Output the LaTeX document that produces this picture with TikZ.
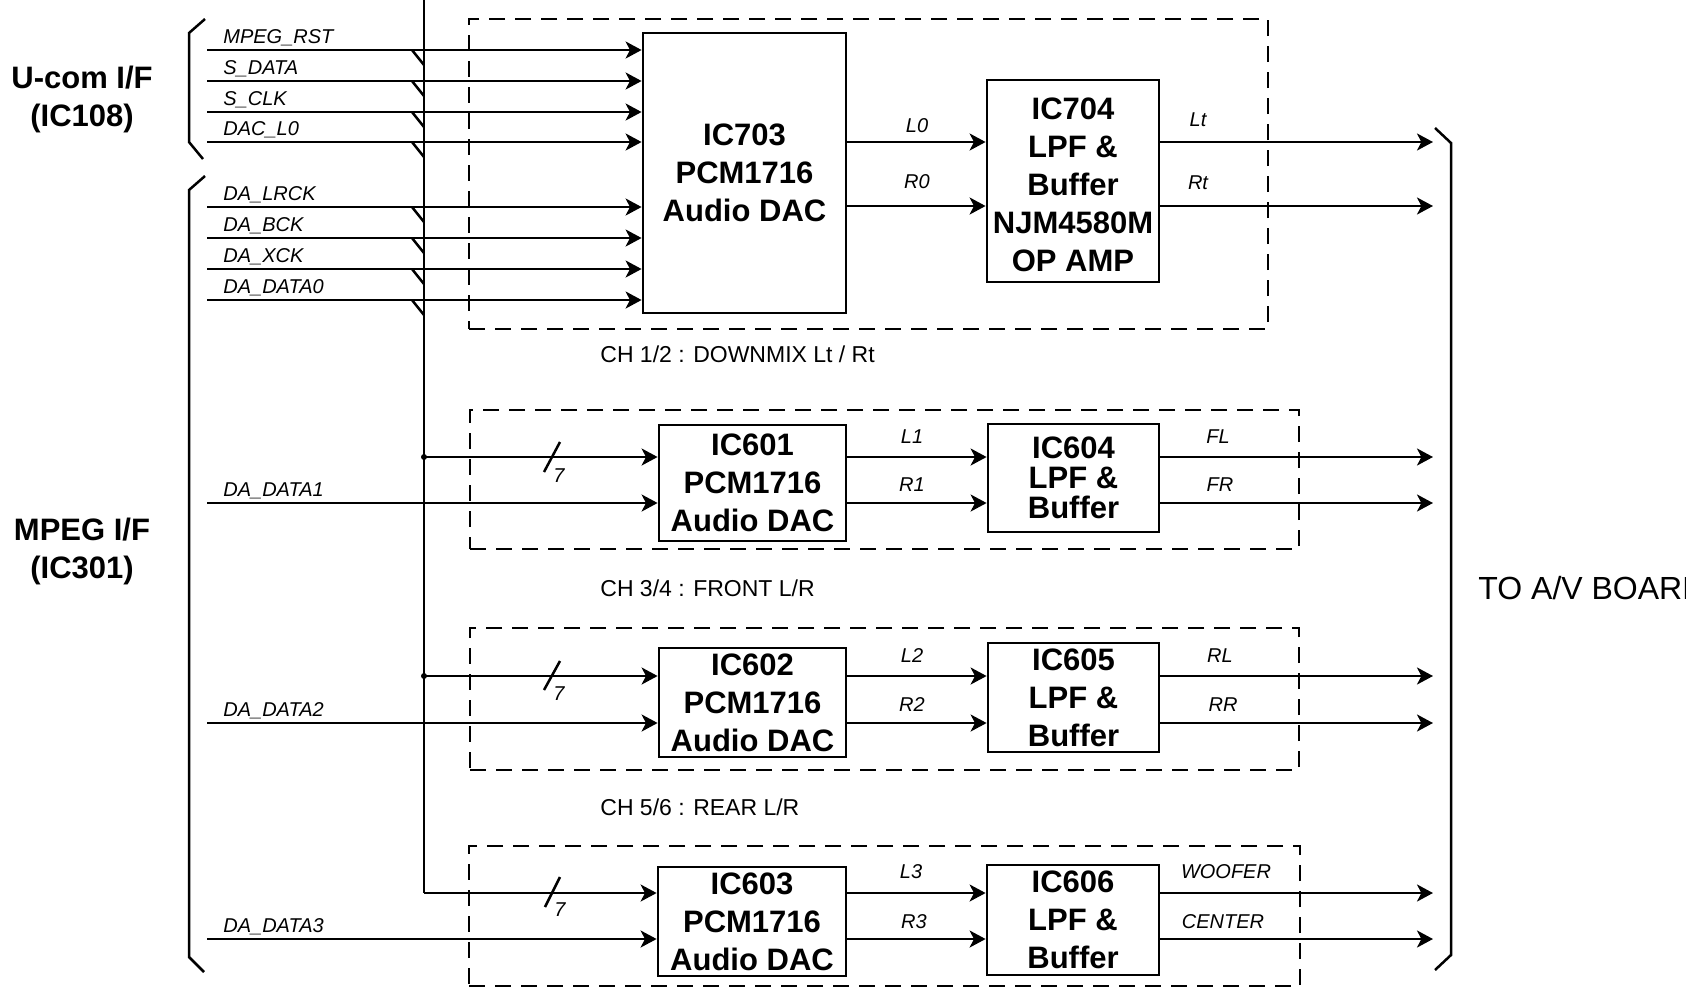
\documentclass[tikz,border=0pt]{standalone}
\usepackage{fontspec}
\setmainfont{Liberation Sans}
\usetikzlibrary{arrows.meta,fit}
\begin{document}
\begin{tikzpicture}[x=0.5pt,y=-0.5pt,
  icbox/.style={draw, line width=1.4pt, inner sep=0pt, align=center,
    font=\bfseries\fontsize{15.5}{19}\selectfont},
  sig/.style={font=\itshape\fontsize{10}{12}\selectfont, anchor=base west, inner sep=0pt},
  lab/.style={font=\itshape\fontsize{10}{12}\selectfont, anchor=base, inner sep=0pt},
  chlab/.style={font=\fontsize{11.5}{14}\selectfont, anchor=base west, inner sep=0pt},
  side/.style={font=\bfseries\fontsize{15.5}{19}\selectfont, anchor=base, inner sep=0pt},
  arr/.style={-{Stealth[length=8pt,width=8.5pt,inset=2.2pt]}, line width=1.25pt},
  wire/.style={line width=1.25pt},
  grp/.style={draw, dash pattern=on 8pt off 5pt, line width=1.25pt, inner sep=0pt}
]
\useasboundingbox (0,0) rectangle (1686,992);

% group frames
\node[grp, fit={(469,19) (1268,329)}] (g1) {};
\node[grp, fit={(470,410) (1299,549)}] (g2) {};
\node[grp, fit={(470,628) (1299,770)}] (g3) {};
\node[grp, fit={(469,846) (1300,986)}] (g4) {};

% IC boxes
\node[icbox, minimum width=101.5pt, minimum height=140pt] (ic703) at (744.5,173) {IC703\\PCM1716\\Audio DAC};
\node[icbox, minimum width=86pt, minimum height=101pt] (ic704) at (1073,181) {\rule{0pt}{15pt}IC704\\LPF \&\\Buffer\\NJM4580M\\OP AMP};
\node[icbox, minimum width=93.5pt, minimum height=58pt] (ic601) at (752.5,483) {IC601\\PCM1716\\Audio DAC};
\node[icbox, minimum width=85.5pt, minimum height=54pt, font=\bfseries\fontsize{15.5}{15}\selectfont] (ic604) at (1073.5,478) {IC604\\LPF \&\\Buffer};
\node[icbox, minimum width=93.5pt, minimum height=54.5pt] (ic602) at (752.5,702.5) {IC602\\PCM1716\\Audio DAC};
\node[icbox, minimum width=85.5pt, minimum height=54.5pt] (ic605) at (1073.5,697.5) {IC605\\LPF \&\\Buffer};
\node[icbox, minimum width=94pt, minimum height=54.5pt] (ic603) at (752,921.5) {IC603\\PCM1716\\Audio DAC};
\node[icbox, minimum width=86pt, minimum height=55pt] (ic606) at (1073,920) {IC606\\LPF \&\\Buffer};

% left side labels
\node[side] (ucom) at (82,88) {U-com I/F};
\node[side] (ic108) at (82,126) {(IC108)};
\node[side] (mpeg) at (82,540) {MPEG I/F};
\node[side] (ic301) at (82,578) {(IC301)};

% brackets
\draw[wire] (205,19) -- (189,33) -- (189,142) -- (203,159);
\draw[wire] (205,176) -- (189,190) -- (189,957) -- (204,972);
\draw[wire] (1435,128) -- (1451,143) -- (1451,955) -- (1435,970);

% bus
\coordinate (bustop) at (424,0);
\coordinate (busj1) at (424,457);
\coordinate (busj2) at (424,676);
\coordinate (busend) at (424,893);
\draw[wire] (bustop) -- (busend);
\fill (busj1) circle[radius=1.5pt];
\fill (busj2) circle[radius=1.5pt];

% top inputs
\foreach \y/\t/\n in {50/MPEG\_RST/a, 81/S\_DATA/b, 112/S\_CLK/c, 142/DAC\_L0/d,
                      207/DA\_LRCK/e, 238/DA\_BCK/f, 269/DA\_XCK/g, 300/DA\_DATA0/h}{
  \coordinate (in\n) at (207,\y);
  \draw[arr] (in\n) -- (ic703.west |- in\n);
  \draw[wire] (412,\y) -- (424,\y+15);
  \node[sig] (l\n) at (223,\y-7) {\t};
}

% row 1 outputs
\coordinate (o1a) at (1433,142);
\coordinate (o1b) at (1433,206);
\draw[arr] (ic703.east |- o1a) -- (ic704.west |- o1a);
\draw[arr] (ic703.east |- o1b) -- (ic704.west |- o1b);
\draw[arr] (ic704.east |- o1a) -- (o1a);
\draw[arr] (ic704.east |- o1b) -- (o1b);
\node[lab] (tL0) at (917,132) {L0};
\node[lab] (tR0) at (917,188) {R0};
\node[lab] (tLt) at (1198,126) {Lt};
\node[lab] (tRt) at (1198,189) {Rt};
\node[chlab] (ch12) at (600,362) {CH 1/2 : DOWNMIX Lt / Rt};

% row 2
\coordinate (d1) at (207,503);
\coordinate (o2a) at (1433,457);
\coordinate (o2b) at (1433,503);
\draw[arr] (busj1) -- (ic601.west |- busj1);
\draw[arr] (d1) -- (ic601.west |- d1);
\draw[wire] (544,472) -- (560,442);
\node[lab, anchor=base west] (n7a) at (553,482) {7};
\node[sig] (ld1) at (223,496) {DA\_DATA1};
\draw[arr] (ic601.east |- o2a) -- (ic604.west |- o2a);
\draw[arr] (ic601.east |- o2b) -- (ic604.west |- o2b);
\draw[arr] (ic604.east |- o2a) -- (o2a);
\draw[arr] (ic604.east |- o2b) -- (o2b);
\node[lab] (tL1) at (912,443) {L1};
\node[lab] (tR1) at (912,491) {R1};
\node[lab] (tFL) at (1218,443) {FL};
\node[lab] (tFR) at (1220,491) {FR};
\node[chlab] (ch34) at (600,596) {CH 3/4 : FRONT L/R};

% row 3
\coordinate (d2) at (207,723);
\coordinate (o3a) at (1433,676);
\coordinate (o3b) at (1433,723);
\draw[arr] (busj2) -- (ic602.west |- busj2);
\draw[arr] (d2) -- (ic602.west |- d2);
\draw[wire] (544,690) -- (560,661);
\node[lab, anchor=base west] (n7b) at (553,700) {7};
\node[sig] (ld2) at (223,716) {DA\_DATA2};
\draw[arr] (ic602.east |- o3a) -- (ic605.west |- o3a);
\draw[arr] (ic602.east |- o3b) -- (ic605.west |- o3b);
\draw[arr] (ic605.east |- o3a) -- (o3a);
\draw[arr] (ic605.east |- o3b) -- (o3b);
\node[lab] (tL2) at (912,662) {L2};
\node[lab] (tR2) at (912,711) {R2};
\node[lab] (tRL) at (1220,662) {RL};
\node[lab] (tRR) at (1223,711) {RR};
\node[chlab] (ch56) at (600,815) {CH 5/6 : REAR L/R};

% row 4
\coordinate (d3) at (207,939);
\coordinate (o4a) at (1433,893);
\coordinate (o4b) at (1433,939);
\draw[arr] (busend) -- (ic603.west |- busend);
\draw[arr] (d3) -- (ic603.west |- d3);
\draw[wire] (545,907) -- (560,877);
\node[lab, anchor=base west] (n7c) at (554,916) {7};
\node[sig] (ld3) at (223,932) {DA\_DATA3};
\draw[arr] (ic603.east |- o4a) -- (ic606.west |- o4a);
\draw[arr] (ic603.east |- o4b) -- (ic606.west |- o4b);
\draw[arr] (ic606.east |- o4a) -- (o4a);
\draw[arr] (ic606.east |- o4b) -- (o4b);
\node[lab] (tL3) at (911,878) {L3};
\node[lab] (tR3) at (914,928) {R3};
\node[lab] (tWO) at (1226,878) {WOOFER};
\node[lab] (tCE) at (1223,928) {CENTER};

% right label
\node[font=\fontsize{16}{19}\selectfont, anchor=base west, inner sep=0pt] (toav) at (1478,599) {TO A/V BOARD};
\end{tikzpicture}
\end{document}
